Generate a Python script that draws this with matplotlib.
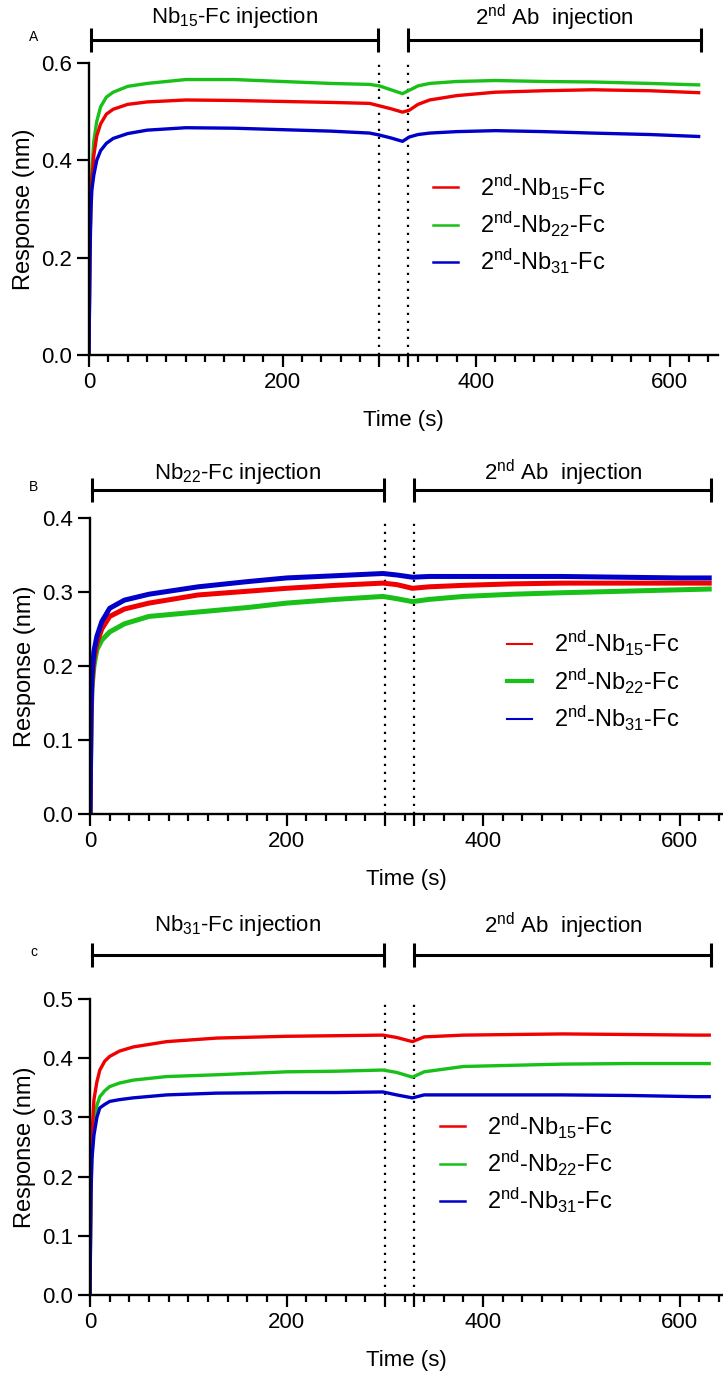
import matplotlib
matplotlib.use("Agg")
import matplotlib.pyplot as plt
import matplotlib.transforms as mtransforms
from matplotlib.ticker import FixedLocator, MultipleLocator

plt.rcParams['font.family'] = ['Liberation Sans', 'DejaVu Sans']
plt.rcParams['mathtext.default'] = 'regular'

# ---------------- data ----------------
t_A = [0, 1, 2, 3, 5, 8, 12, 18, 25, 40, 60, 100, 150, 200, 250, 290, 300, 312,
       324, 331, 340, 352, 380, 420, 470, 520, 580, 630]
A_nb15 = [0, 0.22, 0.32, 0.36, 0.41, 0.45, 0.475, 0.495, 0.505, 0.515, 0.52, 0.524,
          0.523, 0.521, 0.519, 0.517, 0.512, 0.506, 0.499, 0.503, 0.515, 0.524, 0.533,
          0.540, 0.543, 0.545, 0.543, 0.539]
A_nb22 = [0, 0.22, 0.33, 0.38, 0.44, 0.48, 0.51, 0.53, 0.54, 0.552, 0.558, 0.566,
          0.566, 0.562, 0.558, 0.556, 0.553, 0.545, 0.537, 0.544, 0.553, 0.558, 0.562,
          0.564, 0.562, 0.561, 0.558, 0.555]
A_nb31 = [0, 0.20, 0.30, 0.34, 0.37, 0.40, 0.42, 0.435, 0.445, 0.455, 0.462, 0.467,
          0.466, 0.463, 0.460, 0.456, 0.452, 0.446, 0.439, 0.448, 0.453, 0.456, 0.459,
          0.461, 0.459, 0.456, 0.453, 0.449]

t_B = [0, 1, 2, 4, 7, 12, 20, 35, 60, 110, 160, 200, 250, 298, 312, 328, 345, 380,
       430, 480, 540, 600, 630]
B_nb15 = [0, 0.13, 0.18, 0.21, 0.231, 0.25, 0.267, 0.277, 0.285, 0.296, 0.301, 0.305,
          0.309, 0.312, 0.310, 0.305, 0.307, 0.309, 0.311, 0.312, 0.312, 0.312, 0.312]
B_nb22 = [0, 0.12, 0.17, 0.20, 0.222, 0.235, 0.246, 0.257, 0.267, 0.273, 0.279, 0.285,
          0.290, 0.294, 0.291, 0.287, 0.290, 0.294, 0.297, 0.299, 0.301, 0.303, 0.304]
B_nb31 = [0, 0.14, 0.19, 0.22, 0.24, 0.26, 0.278, 0.289, 0.297, 0.307, 0.314, 0.319,
          0.322, 0.325, 0.323, 0.320, 0.321, 0.321, 0.321, 0.321, 0.320, 0.319, 0.319]

t_C = [0, 1, 2, 4, 7, 10, 15, 20, 30, 44, 78, 129, 200, 250, 298, 312, 328, 340, 380,
       430, 481, 550, 617, 630]
C_nb15 = [0, 0.20, 0.27, 0.33, 0.36, 0.38, 0.395, 0.403, 0.412, 0.419, 0.428, 0.434,
          0.437, 0.438, 0.439, 0.435, 0.428, 0.436, 0.439, 0.440, 0.441, 0.440, 0.439, 0.439]
C_nb22 = [0, 0.18, 0.24, 0.29, 0.32, 0.335, 0.345, 0.352, 0.358, 0.363, 0.369, 0.372,
          0.377, 0.378, 0.380, 0.376, 0.368, 0.377, 0.386, 0.388, 0.390, 0.391, 0.391, 0.391]
C_nb31 = [0, 0.17, 0.23, 0.27, 0.30, 0.316, 0.322, 0.327, 0.330, 0.333, 0.338, 0.341,
          0.342, 0.342, 0.343, 0.338, 0.333, 0.338, 0.338, 0.338, 0.338, 0.337, 0.335, 0.335]

series_labels = [r'2$^{nd}$-Nb$_{15}$-Fc', r'2$^{nd}$-Nb$_{22}$-Fc', r'2$^{nd}$-Nb$_{31}$-Fc']
first_injection = [r'Nb$_{15}$-Fc injection', r'Nb$_{22}$-Fc injection', r'Nb$_{31}$-Fc injection']
second_injection = r'2$^{nd}$ Ab  injection'
panel_letters = ['A', 'B', 'c']
phase_1 = (2, 299)
phase_2 = (330, 632)
dotted_at = [300, 330]
major_x = [0, 200, 300, 330, 400, 600]
labelled_x = [0, 200, 400, 600]

colors = ['#f00000', '#18c018', '#0000c8']

panels = [
    dict(t=t_A, ys=[A_nb15, A_nb22, A_nb31], ylim=0.6, ystep=0.2, xmax=650,
         rect=[89, 63, 629, 292], bar_dy=23, text_dy=45, leg=(0.528, 0.665), lw=2.4),
    dict(t=t_B, ys=[B_nb15, B_nb22, B_nb31], ylim=0.4, ystep=0.1, xmax=643,
         rect=[90, 518, 632, 296], bar_dy=28, text_dy=45, leg=(0.641, 0.664), lw=3.6),
    dict(t=t_C, ys=[C_nb15, C_nb22, C_nb31], ylim=0.5, ystep=0.1, xmax=643,
         rect=[90, 999, 632, 296], bar_dy=44, text_dy=73, leg=(0.535, 0.66), lw=2.4),
]

W, H = 723, 1374
fig = plt.figure(figsize=(W / 100, H / 100), dpi=100)

for i, p in enumerate(panels):
    x0, top, w, h = p['rect']
    ax = fig.add_axes([x0 / W, 1 - (top + h) / H, w / W, h / H])
    lines = {}
    for k in [1, 0, 2]:
        ln, = ax.plot(p['t'], p['ys'][k], color=colors[k], lw=p['lw'], solid_joinstyle='round')
        lines[k] = ln

    ax.set_xlim(0, p['xmax'])
    ax.set_ylim(0, p['ylim'])
    for xv in dotted_at:
        ax.plot([xv, xv], [0, p['ylim']], color='black', lw=1.6, ls=(0, (1, 2.6)), zorder=1)

    for s in ['top', 'right']:
        ax.spines[s].set_visible(False)
    for s in ['left', 'bottom']:
        ax.spines[s].set_linewidth(1.7)
    ax.xaxis.set_major_locator(FixedLocator(major_x))
    ax.set_xticklabels([str(v) if v in labelled_x else '' for v in major_x])
    ax.xaxis.set_minor_locator(MultipleLocator(20))
    ax.yaxis.set_major_locator(MultipleLocator(p['ystep']))
    ax.yaxis.set_major_formatter(matplotlib.ticker.FormatStrFormatter('%.1f'))
    ax.tick_params(which='major', direction='out', length=8.5, width=1.6, labelsize=16, pad=4)
    ax.tick_params(which='minor', direction='out', length=5, width=1.6)
    ax.tick_params(axis='y', which='minor', left=False)
    ax.set_xlabel('Time (s)', fontsize=16, labelpad=12)
    ax.set_ylabel('Response (nm)', fontsize=17, labelpad=4)

    # injection bars
    tr = mtransforms.blended_transform_factory(ax.transData, ax.transAxes)
    yb = 1 + p['bar_dy'] / h
    dt = 12 / h
    yt = 1 + p['text_dy'] / h
    for (a, b), lab in [(phase_1, first_injection[i]), (phase_2, second_injection)]:
        ax.plot([a, b], [yb, yb], color='black', lw=2.2, transform=tr, clip_on=False)
        for xe in (a, b):
            ax.plot([xe, xe], [yb - dt, yb + dt], color='black', lw=2.2, transform=tr,
                    clip_on=False, solid_capstyle='butt')
        ax.text((a + b) / 2, yt, lab, ha='center', va='center', fontsize=16, transform=tr)

    fig.text(34 / W, 1 - (top - p['bar_dy'] - 3) / H, panel_letters[i], fontsize=10,
             ha='center', va='center')

    leg = ax.legend([lines[0], lines[1], lines[2]], series_labels, loc='upper left',
                    bbox_to_anchor=p['leg'], frameon=False, fontsize=17,
                    handlelength=1.05, handletextpad=0.95, labelspacing=0.35, borderpad=0)
    for lh in leg.get_lines():
        lh.set_linewidth(1.8 if i != 1 else 1.5)
    if i == 1:
        leg.get_lines()[1].set_linewidth(3.0)

fig.savefig('out.png', dpi=100)
